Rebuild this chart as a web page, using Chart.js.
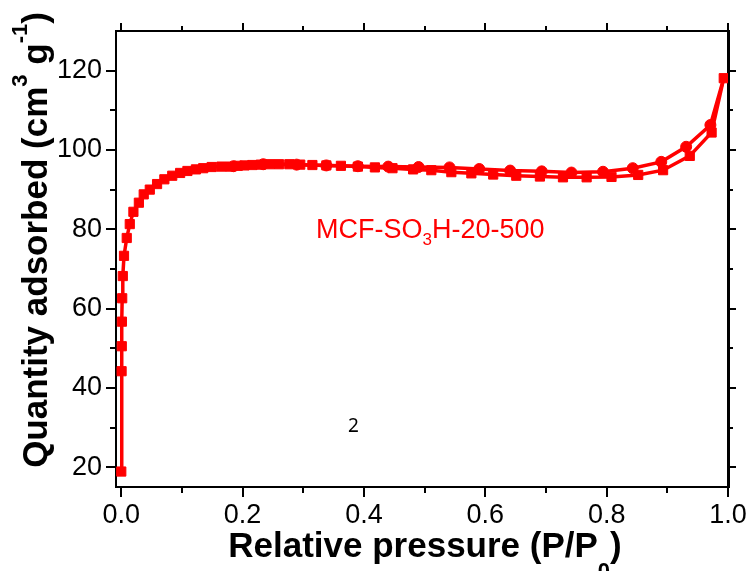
<!DOCTYPE html>
<html>
<head>
<meta charset="utf-8">
<script src="https://cdn.jsdelivr.net/npm/chart.js@4"></script>
<style>
  html, body { margin: 0; padding: 0; background: #fff; }
</style>
</head>
<body>
<canvas id="grafico" width="752" height="571"></canvas>
<script>
// adsorption branch (squares)
const adsP = [0.000, 0.0005, 0.0008, 0.001, 0.0015, 0.0025, 0.0045, 0.009, 0.014, 0.020, 0.029, 0.037, 0.047,
  0.059, 0.071, 0.084, 0.097, 0.109, 0.123, 0.135, 0.149, 0.165, 0.180, 0.192, 0.203, 0.216, 0.230, 0.245,
  0.260, 0.277, 0.295, 0.315, 0.338, 0.362, 0.390, 0.418, 0.447, 0.481, 0.511, 0.544, 0.577, 0.613, 0.651,
  0.690, 0.728, 0.767, 0.808, 0.852, 0.893, 0.937, 0.973, 0.993];
const adsQ = [18.9, 44.2, 50.5, 56.7, 62.6, 68.2, 73.3, 77.8, 81.3, 84.4, 86.7, 88.8, 90.0,
  91.4, 92.6, 93.5, 94.2, 94.7, 95.1, 95.4, 95.7, 95.8, 95.8, 96.0, 96.1, 96.2, 96.3, 96.4,
  96.4, 96.4, 96.3, 96.2, 96.1, 96.0, 95.8, 95.6, 95.4, 95.1, 94.9, 94.4, 94.1, 93.8, 93.5,
  93.3, 93.1, 93.1, 93.2, 93.7, 94.9, 98.5, 104.4, 118.1];

// desorption branch (circles), starts at the last adsorption point
const desP = [0.993, 0.971, 0.931, 0.890, 0.843, 0.794, 0.742, 0.693, 0.641, 0.590, 0.541, 0.490,
  0.440, 0.390, 0.338, 0.289, 0.234, 0.185];
const desQ = [118.1, 106.3, 100.8, 97.0, 95.4, 94.5, 94.3, 94.6, 94.8, 95.2, 95.6, 95.7,
  95.8, 95.9, 96.1, 96.3, 96.4, 95.9];

// ticks
const xTicks = [0, 0.2, 0.4, 0.6, 0.8, 1.0];
const xMinor = [0.1, 0.3, 0.5, 0.7, 0.9];
const yTicks = [20, 40, 60, 80, 100, 120];
const yMinor = [30, 50, 70, 90, 110];

const vermelho = '#ff0000';
const fonte = 'Arial, "Liberation Sans", sans-serif';

const pontos = (xs, ys) => xs.map((v, i) => ({ x: v, y: ys[i] }));

// titulos com sub/sobrescrito, rotulo da amostra e tiques menores
const extras = {
  id: 'extras',
  afterDraw(chart) {
    const c = chart.ctx;
    const { x, x2, y, y2 } = chart.scales;
    c.save();

    // tiques menores
    c.strokeStyle = '#000';
    c.lineWidth = 2;
    c.beginPath();
    xMinor.forEach(v => {
      const px = Math.round(x.getPixelForValue(v));
      c.moveTo(px, x.top); c.lineTo(px, x.top + 6);
      c.moveTo(px, x2.bottom); c.lineTo(px, x2.bottom - 5);
    });
    yMinor.forEach(v => {
      const py = Math.round(y.getPixelForValue(v));
      c.moveTo(y.right, py); c.lineTo(y.right - 6, py);
      c.moveTo(y2.left, py); c.lineTo(y2.left + 5, py);
    });
    c.stroke();

    c.fillStyle = '#000';
    c.textBaseline = 'alphabetic';

    // titulo eixo X
    const partesX = [
      { t: 'Relative pressure (P/P', f: 'bold 35px ' + fonte, dy: 0 },
      { t: '0', f: 'bold 22px ' + fonte, dy: 21 },
      { t: ')', f: 'bold 35px ' + fonte, dy: 0 }
    ];
    desenhaPartes(c, partesX, 425, 557);

    // titulo eixo Y (girado)
    c.save();
    c.translate(47, 240);
    c.rotate(-Math.PI / 2);
    const partesY = [
      { t: 'Quantity adsorbed (cm', f: 'bold 35px ' + fonte, dy: 0 },
      { t: '3', f: 'bold 22px ' + fonte, dy: -20 },
      { t: ' g', f: 'bold 35px ' + fonte, dy: 0 },
      { t: '-1', f: 'bold 22px ' + fonte, dy: -20 },
      { t: ')', f: 'bold 35px ' + fonte, dy: 0 }
    ];
    desenhaPartes(c, partesY, 0, 0);
    c.restore();

    // nome da amostra
    c.fillStyle = vermelho;
    const partesNome = [
      { t: 'MCF-SO', f: '27px ' + fonte, dy: 0 },
      { t: '3', f: '17px ' + fonte, dy: 7 },
      { t: 'H-20-500', f: '27px ' + fonte, dy: 0 }
    ];
    let px = 316;
    partesNome.forEach(p => {
      c.font = p.f;
      c.fillText(p.t, px, 238 + p.dy);
      px += c.measureText(p.t).width;
    });

    // o "2" solto no meio do grafico
    c.fillStyle = '#000';
    c.font = '19px "Noto Sans", sans-serif';
    c.fillText('2', 348, 432);

    c.restore();
  }
};

function desenhaPartes(c, partes, cx, base) {
  let total = 0;
  partes.forEach(p => { c.font = p.f; total += c.measureText(p.t).width; });
  let px = cx - total / 2;
  partes.forEach(p => {
    c.font = p.f;
    c.fillText(p.t, px, base + p.dy);
    px += c.measureText(p.t).width;
  });
}

const eixoBase = {
  type: 'linear',
  grid: { drawOnChartArea: false, color: '#000', lineWidth: 2, tickLength: 10 },
  border: { display: true, color: '#000', width: 2 }
};

new Chart(document.getElementById('grafico').getContext('2d'), {
  type: 'line',
  data: {
    datasets: [
      {
        label: 'Adsorption',
        data: pontos(adsP, adsQ),
        borderColor: vermelho,
        backgroundColor: vermelho,
        borderWidth: 3.5,
        pointStyle: 'rect',
        pointRadius: 6.5,
        pointBorderWidth: 1,
        tension: 0,
        order: 1
      },
      {
        label: 'Desorption',
        data: pontos(desP, desQ),
        borderColor: vermelho,
        backgroundColor: vermelho,
        borderWidth: 3.5,
        pointStyle: 'circle',
        pointRadius: ctx => ctx.dataIndex === 0 ? 0 : 5.5,
        pointBorderWidth: 1,
        tension: 0,
        order: 2
      }
    ]
  },
  options: {
    responsive: false,
    animation: false,
    layout: { padding: 0 },
    plugins: {
      legend: { display: false },
      tooltip: { enabled: false }
    },
    scales: {
      x: {
        ...eixoBase,
        position: 'bottom',
        min: -0.0087,
        max: 1.0,
        afterBuildTicks: s => { s.ticks = xTicks.map(v => ({ value: v })); },
        afterFit: s => { s.height = 84; },
        ticks: {
          color: '#000',
          padding: 2,
          maxRotation: 0,
          font: { family: fonte, size: 27 },
          callback: v => Number(v).toFixed(1)
        }
      },
      x2: {
        ...eixoBase,
        position: 'top',
        min: -0.0087,
        max: 1.0,
        grid: { ...eixoBase.grid, tickLength: 8 },
        afterBuildTicks: s => { s.ticks = xTicks.map(v => ({ value: v })); },
        afterFit: s => { s.height = 31; },
        ticks: { display: false }
      },
      y: {
        ...eixoBase,
        position: 'left',
        min: 15,
        max: 130,
        afterBuildTicks: s => { s.ticks = yTicks.map(v => ({ value: v })); },
        afterFit: s => { s.width = 116; },
        ticks: {
          color: '#000',
          padding: 4,
          font: { family: fonte, size: 27 }
        }
      },
      y2: {
        ...eixoBase,
        position: 'right',
        min: 15,
        max: 130,
        grid: { ...eixoBase.grid, tickLength: 8 },
        border: { display: true, color: '#000', width: 3 },
        afterBuildTicks: s => { s.ticks = yTicks.map(v => ({ value: v })); },
        afterFit: s => { s.width = 24; },
        ticks: { display: false }
      }
    }
  },
  plugins: [extras]
});
</script>
</body>
</html>
